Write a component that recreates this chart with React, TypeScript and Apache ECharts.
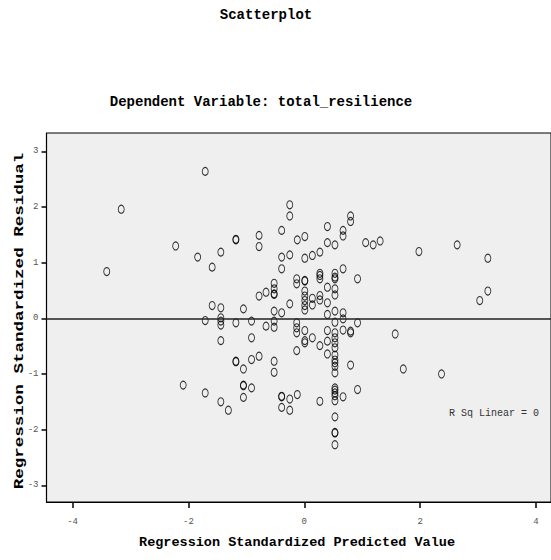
import React, { useEffect, useRef } from "react";
import * as echarts from "echarts";

const chartTitle = "Scatterplot";
const chartSubtitle = "Dependent Variable: total_resilience";
const xAxisName = "Regression Standardized Predicted Value";
const yAxisName = "Regression Standardized Residual";
const fitLabel = "R Sq Linear = 0";
const xTickValues = [-4, -2, 0, 2, 4];
const yTickValues = [-3, -2, -1, 0, 1, 2, 3];

// Regression standardized predicted values (x)
const predictedValue = [
  -3.16, -3.41, -1.71, -2.22, -1.84, -1.59, -1.44, -1.18, -1.18, -0.78,
  -0.78, -0.39, -0.25, -0.25, -0.12, 0.01, 0.40, 0.80, 0.80, 0.67,
  0.67, 0.40, 0.53, 0.27, 0.14, 0.01, -0.25, -0.39, 1.06, 1.19,
  1.31, 1.98, 2.64, 3.17, 3.17, 3.03, 1.57, 1.71, 2.37,
  -1.59, -1.71, -1.44, -1.44, -1.44, -1.44, -1.44, -1.18, -1.05, -0.91,
  -0.91, -0.78, -0.66, -0.52, -0.52, -0.52, -0.52, -0.52, -0.52, -0.52,
  -0.66, -0.39, -0.39, -0.25, -0.13, -0.13, -0.13, -0.13, -0.13, -0.13,
  0.01, 0.01, 0.01, 0.01, 0.01, 0.01, 0.01, 0.01, 0.01, 0.01,
  0.14, 0.14, 0.14, 0.27, 0.27, 0.27, 0.27, 0.27, 0.27,
  0.40, 0.40, 0.40, 0.40, 0.40, 0.40,
  0.53, 0.53, 0.53, 0.53, 0.53, 0.53, 0.53, 0.53, 0.53, 0.53,
  0.53, 0.53, 0.53, 0.53, 0.53, 0.53,
  0.67, 0.67, 0.67, 0.67, 0.80, 0.80, 0.80, 0.92, 0.92,
  -2.09, -1.71, -1.44, -1.31, -1.05, -1.05, -0.91, -1.05, -1.18, -1.18,
  -1.05, -0.91, -0.78, -0.52, -0.52, -0.39, -0.39, -0.25, -0.12, -0.39,
  -0.25, 0.27, 0.53, 0.53, 0.53, 0.53, 0.53, 0.67, 0.92, 0.53,
  0.53, 0.53, 0.53,
];

// Regression standardized residuals (y)
const standardizedResidual = [
  1.96, 0.84, 2.64, 1.30, 1.10, 0.92, 1.19, 1.41, 1.42, 1.49,
  1.29, 1.58, 2.04, 1.84, 1.41, 1.47, 1.65, 1.84, 1.74, 1.58,
  1.48, 1.36, 1.32, 1.19, 1.13, 1.08, 1.14, 1.10, 1.36, 1.32,
  1.39, 1.20, 1.32, 1.08, 0.49, 0.32, -0.28, -0.91, -1.0,
  0.23, -0.04, 0.19, 0.01, -0.05, -0.12, -0.40, -0.08, 0.17, -0.05,
  -0.35, 0.40, 0.47, 0.63, 0.53, 0.44, 0.43, 0.13, -0.05, -0.16,
  -0.14, 0.89, 0.10, 0.26, 0.71, 0.62, -0.08, -0.17, -0.26, -0.58,
  0.68, 0.67, 0.49, 0.40, 0.32, 0.23, 0.15, -0.22, -0.40, -0.44,
  0.36, 0.24, -0.35, 0.81, 0.77, 0.71, 0.41, 0.33, -0.49,
  0.56, 0.28, 0.07, -0.22, -0.41, -0.64,
  0.81, 0.74, 0.71, 0.53, 0.42, 0.13, -0.07, -0.26, -0.35, -0.44,
  -0.53, -0.66, -0.75, -0.80, -0.86, -0.98,
  0.89, 0.10, -0.01, -0.21, -0.23, -0.26, -0.84, 0.71, -0.08,
  -1.20, -1.34, -1.50, -1.65, -1.20, -1.21, -1.25, -1.42, -0.77, -0.78,
  -0.91, -0.74, -0.68, -0.77, -0.97, -1.40, -1.41, -1.45, -1.37, -1.60,
  -1.65, -1.49, -1.25, -1.29, -1.34, -1.39, -1.48, -1.41, -1.28, -1.77,
  -2.05, -2.06, -2.27,
];

export default function App() {
  const ref = useRef<HTMLDivElement>(null);

  useEffect(() => {
    if (!ref.current) return;
    const chart = echarts.init(ref.current, null, { renderer: "svg" });
    const points = predictedValue.map((x, i) => [x, standardizedResidual[i]]);
    const mono = '"Liberation Mono", "Courier New", monospace';

    chart.setOption({
      animation: false,
      backgroundColor: "#ffffff",
      grid: {
        left: 46.5,
        top: 133,
        right: -2,
        bottom: 58,
        show: true,
        backgroundColor: "#efefef",
        borderColor: "#000",
        borderWidth: 1,
      },
      xAxis: {
        type: "value",
        min: -4.45,
        max: 4.26,
        splitLine: { show: false },
        axisLine: { show: true, onZero: false, lineStyle: { color: "#000", width: 1.2 } },
        axisTick: {
          show: true,
          length: 6,
          customValues: xTickValues,
          lineStyle: { color: "#000", width: 1.5 },
        },
        axisLabel: {
          customValues: xTickValues,
          margin: 15,
          fontFamily: mono,
          fontSize: 9,
          color: "#555",
        },
      },
      yAxis: {
        type: "value",
        min: -3.3,
        max: 3.33,
        splitLine: { show: false },
        axisLine: { show: true, onZero: false, lineStyle: { color: "#000", width: 1.2 } },
        axisTick: {
          show: true,
          length: 5,
          customValues: yTickValues,
          lineStyle: { color: "#000", width: 1.5 },
        },
        axisLabel: {
          customValues: yTickValues,
          margin: 8,
          fontFamily: mono,
          fontSize: 9,
          color: "#555",
        },
      },
      graphic: [
        {
          type: "text",
          x: 266,
          y: 15,
          style: {
            text: chartTitle,
            font: `bold 14px ${mono}`,
            fill: "#000",
            textAlign: "center",
            textVerticalAlign: "middle",
          },
        },
        {
          type: "text",
          x: 261,
          y: 102,
          style: {
            text: chartSubtitle,
            font: `bold 14px ${mono}`,
            fill: "#000",
            textAlign: "center",
            textVerticalAlign: "middle",
          },
        },
        {
          type: "text",
          x: 297,
          y: 542,
          style: {
            text: xAxisName,
            font: `bold 13.5px ${mono}`,
            fill: "#000",
            textAlign: "center",
            textVerticalAlign: "middle",
          },
        },
        {
          type: "text",
          x: 20,
          y: 321,
          rotation: Math.PI / 2,
          scaleX: 1.3,
          style: {
            text: yAxisName,
            font: `bold 13.5px ${mono}`,
            fill: "#000",
            textAlign: "center",
            textVerticalAlign: "middle",
          },
        },
        {
          type: "text",
          x: 494,
          y: 413,
          style: {
            text: fitLabel,
            font: `10px ${mono}`,
            fill: "#333",
            textAlign: "center",
            textVerticalAlign: "middle",
          },
        },
      ],
      series: [
        {
          type: "scatter",
          data: points,
          symbol: "circle",
          symbolSize: [6, 8],
          itemStyle: {
            color: "rgba(0,0,0,0)",
            borderColor: "#000",
            borderWidth: 1,
          },
          markLine: {
            silent: true,
            symbol: "none",
            label: { show: false },
            lineStyle: { color: "#222", width: 1.5, type: "solid" },
            data: [{ yAxis: 0 }],
          },
        },
      ],
    });

    return () => chart.dispose();
  }, []);

  return (
    <div
      ref={ref}
      style={{ position: "fixed", left: 0, top: 0, width: 551, height: 560 }}
    />
  );
}
